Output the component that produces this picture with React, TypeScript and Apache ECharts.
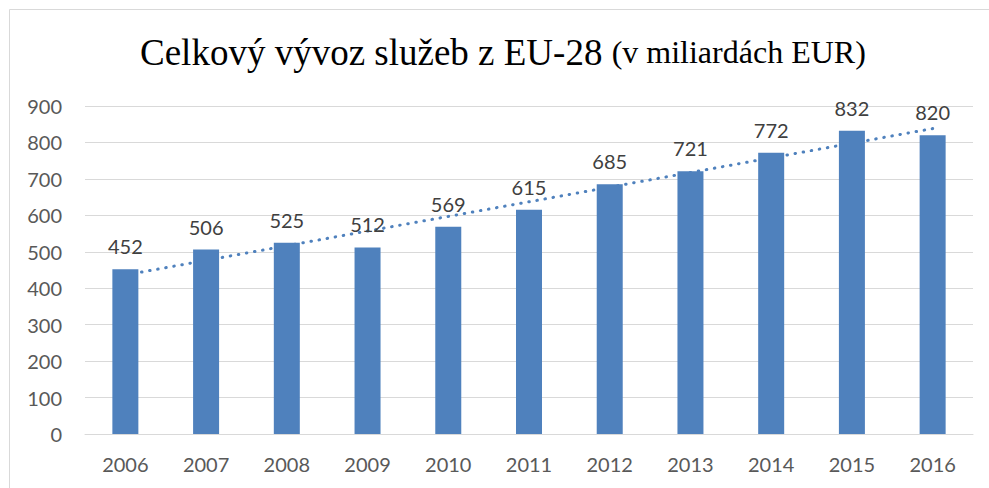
import React, { useEffect, useRef } from "react";
import * as echarts from "echarts";

const years = ["2006", "2007", "2008", "2009", "2010", "2011", "2012", "2013", "2014", "2015", "2016"];
const exportsEUR = [452, 506, 525, 512, 569, 615, 685, 721, 772, 832, 820];
const yTicks = { min: 0, max: 900, interval: 100 };

// Linear trendline (least squares), as in the original spreadsheet chart
function linearTrend(values: number[]): number[] {
  const n = values.length;
  const mx = (n - 1) / 2;
  const my = values.reduce((a, b) => a + b, 0) / n;
  let sxy = 0;
  let sxx = 0;
  values.forEach((v, i) => {
    sxy += (i - mx) * (v - my);
    sxx += (i - mx) * (i - mx);
  });
  const slope = sxy / sxx;
  const icpt = my - slope * mx;
  return values.map((_, i) => +(icpt + slope * i).toFixed(2));
}

const trend = linearTrend(exportsEUR);

export default function App() {
  const ref = useRef<HTMLDivElement>(null);
  useEffect(() => {
    if (!ref.current) return;
    const chart = echarts.init(ref.current, null, { renderer: "svg" });
    const labelFont = "Lato, 'Open Sans', sans-serif";
    const serif = "'Liberation Serif', 'Times New Roman', serif";
    chart.setOption({
      animation: false,
      backgroundColor: "#ffffff",
      title: {
        text: "{a|Celkový vývoz služeb z EU-28 }{b|(v miliardách EUR)}",
        left: 140,
        top: 30,
        padding: 0,
        textStyle: {
          fontWeight: "normal",
          rich: {
            a: { fontFamily: serif, fontWeight: "normal", fontSize: 37, color: "#000000", lineHeight: 44 },
            b: { fontFamily: serif, fontWeight: "normal", fontSize: 32, color: "#000000", lineHeight: 44 },
          },
        },
      },
      graphic: [
        {
          type: "rect",
          shape: { x: 9.5, y: 9.5, width: 1100, height: 600 },
          style: { fill: "none", stroke: "#d9d9d9", lineWidth: 1 },
          silent: true,
        },
      ],
      grid: { left: 85, right: 16, top: 106, bottom: 54, containLabel: false },
      xAxis: {
        type: "category",
        data: years,
        axisLine: { show: true, lineStyle: { color: "#d9d9d9", width: 1 } },
        axisTick: { show: false },
        axisLabel: { color: "#595959", fontSize: 20, fontFamily: labelFont, margin: 20 },
      },
      yAxis: {
        type: "value",
        min: yTicks.min,
        max: yTicks.max,
        interval: yTicks.interval,
        axisLine: { show: false },
        axisTick: { show: false },
        splitLine: { lineStyle: { color: "#d9d9d9", width: 1 } },
        axisLabel: { color: "#595959", fontSize: 20, fontFamily: labelFont, margin: 23 },
      },
      series: [
        {
          type: "line",
          data: trend,
          z: 1,
          symbol: "none",
          silent: true,
          lineStyle: { color: "#4f81bd", width: 3, type: [0.5, 7.7], cap: "round" },
        },
        {
          type: "bar",
          data: exportsEUR,
          z: 2,
          barWidth: 26,
          itemStyle: { color: "#4f81bd" },
          label: {
            show: true,
            position: "top",
            distance: 13,
            color: "#404040",
            fontSize: 20,
            fontFamily: labelFont,
          },
        },
      ],
    });
    return () => chart.dispose();
  }, []);
  return (
    <div
      ref={ref}
      style={{ position: "absolute", left: 0, top: 0, width: 989, height: 488 }}
    />
  );
}
